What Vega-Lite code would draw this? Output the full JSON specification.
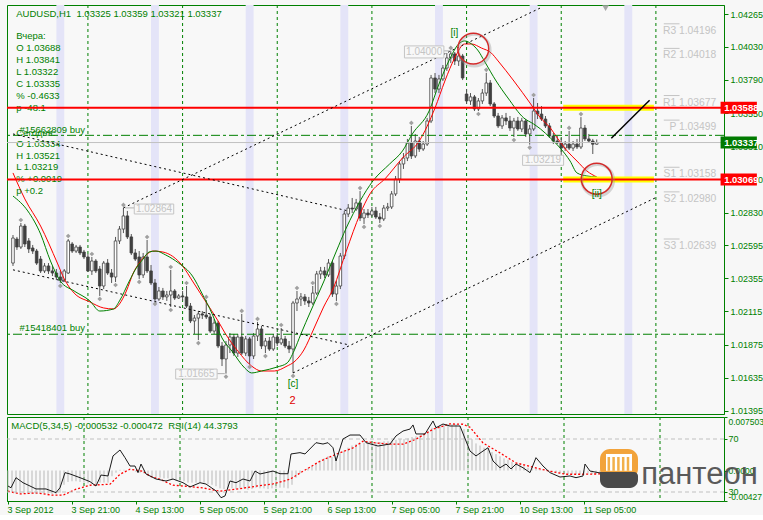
{
"$schema":"https://vega.github.io/schema/vega-lite/v6.json",
"background":"#f7f7f7",
"padding":{"left":4,"top":4,"right":0,"bottom":0},
"spacing":3,
"bounds":"flush",
"config":{"font":"Liberation Sans","view":{"stroke":"#008000","fill":"#f8f8f8"},"axis":{"labelColor":"#008000","tickColor":"#008000","domainColor":"#008000","labelFont":"Liberation Sans","labelFontSize":9,"tickSize":4,"labelPadding":2,"grid":false}},
"datasets":{
"cd":[
{"i":0,"o":1.02465,"h":1.02668,"l":1.02444,"c":1.02646},
{"i":1,"o":1.02639,"h":1.02654,"l":1.02560,"c":1.02581},
{"i":2,"o":1.02581,"h":1.02755,"l":1.02567,"c":1.02733},
{"i":3,"o":1.02733,"h":1.02748,"l":1.02581,"c":1.02603},
{"i":4,"o":1.02625,"h":1.02646,"l":1.02538,"c":1.02567},
{"i":5,"o":1.02574,"h":1.02596,"l":1.02531,"c":1.02552},
{"i":6,"o":1.02552,"h":1.02567,"l":1.02451,"c":1.02465},
{"i":7,"o":1.02494,"h":1.02516,"l":1.02393,"c":1.02408},
{"i":8,"o":1.02408,"h":1.02465,"l":1.02393,"c":1.02444},
{"i":9,"o":1.02444,"h":1.02465,"l":1.02386,"c":1.02408},
{"i":10,"o":1.02408,"h":1.02444,"l":1.02371,"c":1.02393},
{"i":11,"o":1.02393,"h":1.02422,"l":1.02342,"c":1.02364},
{"i":12,"o":1.02364,"h":1.02408,"l":1.02321,"c":1.02342},
{"i":13,"o":1.02342,"h":1.02422,"l":1.02328,"c":1.02408},
{"i":14,"o":1.02393,"h":1.02639,"l":1.02386,"c":1.02625},
{"i":15,"o":1.02603,"h":1.02617,"l":1.02538,"c":1.02552},
{"i":16,"o":1.02552,"h":1.02596,"l":1.02538,"c":1.02581},
{"i":17,"o":1.02581,"h":1.02596,"l":1.02523,"c":1.02538},
{"i":18,"o":1.02545,"h":1.02560,"l":1.02494,"c":1.02509},
{"i":19,"o":1.02509,"h":1.02531,"l":1.02400,"c":1.02408},
{"i":20,"o":1.02408,"h":1.02509,"l":1.02379,"c":1.02480},
{"i":21,"o":1.02480,"h":1.02494,"l":1.02393,"c":1.02408},
{"i":22,"o":1.02422,"h":1.02444,"l":1.02227,"c":1.02299},
{"i":23,"o":1.02299,"h":1.02480,"l":1.02277,"c":1.02465},
{"i":24,"o":1.02465,"h":1.02494,"l":1.02379,"c":1.02393},
{"i":25,"o":1.02393,"h":1.02422,"l":1.02321,"c":1.02364},
{"i":26,"o":1.02364,"h":1.02654,"l":1.02328,"c":1.02625},
{"i":27,"o":1.02625,"h":1.02733,"l":1.02603,"c":1.02711},
{"i":28,"o":1.02711,"h":1.02864,"l":1.02682,"c":1.02806},
{"i":29,"o":1.02806,"h":1.02842,"l":1.02639,"c":1.02654},
{"i":30,"o":1.02654,"h":1.02675,"l":1.02523,"c":1.02538},
{"i":31,"o":1.02538,"h":1.02567,"l":1.02480,"c":1.02494},
{"i":32,"o":1.02509,"h":1.02552,"l":1.02350,"c":1.02379},
{"i":33,"o":1.02379,"h":1.02538,"l":1.02357,"c":1.02509},
{"i":34,"o":1.02509,"h":1.02632,"l":1.02393,"c":1.02408},
{"i":35,"o":1.02408,"h":1.02451,"l":1.02306,"c":1.02321},
{"i":36,"o":1.02321,"h":1.02350,"l":1.02191,"c":1.02205},
{"i":37,"o":1.02205,"h":1.02292,"l":1.02191,"c":1.02263},
{"i":38,"o":1.02263,"h":1.02285,"l":1.02198,"c":1.02220},
{"i":39,"o":1.02220,"h":1.02263,"l":1.02191,"c":1.02234},
{"i":40,"o":1.02234,"h":1.02415,"l":1.02147,"c":1.02263},
{"i":41,"o":1.02263,"h":1.02277,"l":1.02198,"c":1.02212},
{"i":42,"o":1.02212,"h":1.02241,"l":1.02205,"c":1.02227},
{"i":43,"o":1.02227,"h":1.02263,"l":1.02191,"c":1.02220},
{"i":44,"o":1.02220,"h":1.02299,"l":1.02140,"c":1.02154},
{"i":45,"o":1.02154,"h":1.02176,"l":1.02031,"c":1.02046},
{"i":46,"o":1.02046,"h":1.02089,"l":1.01952,"c":1.02067},
{"i":47,"o":1.02067,"h":1.02118,"l":1.01908,"c":1.02097},
{"i":48,"o":1.02097,"h":1.02118,"l":1.02060,"c":1.02089},
{"i":49,"o":1.02089,"h":1.02198,"l":1.02060,"c":1.02075},
{"i":50,"o":1.02075,"h":1.02097,"l":1.01959,"c":1.01973},
{"i":51,"o":1.01973,"h":1.02060,"l":1.01952,"c":1.02031},
{"i":52,"o":1.02031,"h":1.02046,"l":1.01850,"c":1.01865},
{"i":53,"o":1.01865,"h":1.01894,"l":1.01720,"c":1.01771},
{"i":54,"o":1.01771,"h":1.01901,"l":1.01665,"c":1.01872},
{"i":55,"o":1.01872,"h":1.01959,"l":1.01814,"c":1.01930},
{"i":56,"o":1.01930,"h":1.01952,"l":1.01793,"c":1.01814},
{"i":57,"o":1.01814,"h":1.01952,"l":1.01785,"c":1.01930},
{"i":58,"o":1.01930,"h":1.02097,"l":1.01800,"c":1.01814},
{"i":59,"o":1.01814,"h":1.01937,"l":1.01793,"c":1.01916},
{"i":60,"o":1.01916,"h":1.01930,"l":1.01735,"c":1.01793},
{"i":61,"o":1.01793,"h":1.01959,"l":1.01771,"c":1.01937},
{"i":62,"o":1.01937,"h":1.02039,"l":1.01901,"c":1.01988},
{"i":63,"o":1.01988,"h":1.02010,"l":1.01843,"c":1.01865},
{"i":64,"o":1.01865,"h":1.01923,"l":1.01814,"c":1.01901},
{"i":65,"o":1.01901,"h":1.01930,"l":1.01829,"c":1.01843},
{"i":66,"o":1.01843,"h":1.01952,"l":1.01829,"c":1.01930},
{"i":67,"o":1.01930,"h":1.01959,"l":1.01865,"c":1.01887},
{"i":68,"o":1.01887,"h":1.01995,"l":1.01872,"c":1.01916},
{"i":69,"o":1.01916,"h":1.01937,"l":1.01850,"c":1.01865},
{"i":70,"o":1.01865,"h":1.01901,"l":1.01814,"c":1.01843},
{"i":71,"o":1.01843,"h":1.02191,"l":1.01670,"c":1.02176},
{"i":72,"o":1.02176,"h":1.02263,"l":1.02118,"c":1.02205},
{"i":73,"o":1.02205,"h":1.02248,"l":1.02154,"c":1.02220},
{"i":74,"o":1.02220,"h":1.02241,"l":1.02162,"c":1.02191},
{"i":75,"o":1.02191,"h":1.02220,"l":1.02147,"c":1.02176},
{"i":76,"o":1.02176,"h":1.02299,"l":1.02162,"c":1.02248},
{"i":77,"o":1.02248,"h":1.02408,"l":1.02234,"c":1.02386},
{"i":78,"o":1.02386,"h":1.02437,"l":1.02350,"c":1.02408},
{"i":79,"o":1.02408,"h":1.02437,"l":1.02357,"c":1.02379},
{"i":80,"o":1.02379,"h":1.02494,"l":1.02364,"c":1.02465},
{"i":81,"o":1.02465,"h":1.02480,"l":1.02220,"c":1.02241},
{"i":82,"o":1.02241,"h":1.02335,"l":1.02191,"c":1.02299},
{"i":83,"o":1.02299,"h":1.02538,"l":1.02277,"c":1.02516},
{"i":84,"o":1.02516,"h":1.02842,"l":1.02494,"c":1.02820},
{"i":85,"o":1.02820,"h":1.02892,"l":1.02798,"c":1.02863},
{"i":86,"o":1.02863,"h":1.02936,"l":1.02827,"c":1.02856},
{"i":87,"o":1.02856,"h":1.02929,"l":1.02842,"c":1.02900},
{"i":88,"o":1.02900,"h":1.02986,"l":1.02769,"c":1.02791},
{"i":89,"o":1.02791,"h":1.02856,"l":1.02748,"c":1.02827},
{"i":90,"o":1.02827,"h":1.02856,"l":1.02791,"c":1.02813},
{"i":91,"o":1.02813,"h":1.02871,"l":1.02798,"c":1.02842},
{"i":92,"o":1.02842,"h":1.02871,"l":1.02784,"c":1.02798},
{"i":93,"o":1.02798,"h":1.02827,"l":1.02755,"c":1.02784},
{"i":94,"o":1.02784,"h":1.02885,"l":1.02769,"c":1.02863},
{"i":95,"o":1.02863,"h":1.02900,"l":1.02842,"c":1.02871},
{"i":96,"o":1.02871,"h":1.02986,"l":1.02856,"c":1.02965},
{"i":97,"o":1.02965,"h":1.03095,"l":1.02950,"c":1.03073},
{"i":98,"o":1.03073,"h":1.03203,"l":1.03044,"c":1.03182},
{"i":99,"o":1.03182,"h":1.03261,"l":1.03146,"c":1.03225},
{"i":100,"o":1.03225,"h":1.03363,"l":1.03203,"c":1.03334},
{"i":101,"o":1.03334,"h":1.03457,"l":1.03218,"c":1.03240},
{"i":102,"o":1.03240,"h":1.03399,"l":1.03225,"c":1.03348},
{"i":103,"o":1.03348,"h":1.03377,"l":1.03269,"c":1.03290},
{"i":104,"o":1.03290,"h":1.03348,"l":1.03276,"c":1.03326},
{"i":105,"o":1.03326,"h":1.03515,"l":1.03312,"c":1.03493},
{"i":106,"o":1.03493,"h":1.03826,"l":1.03478,"c":1.03804},
{"i":107,"o":1.03804,"h":1.03840,"l":1.03695,"c":1.03724},
{"i":108,"o":1.03724,"h":1.03826,"l":1.03695,"c":1.03797},
{"i":109,"o":1.03797,"h":1.03898,"l":1.03782,"c":1.03876},
{"i":110,"o":1.03876,"h":1.03985,"l":1.03855,"c":1.03949},
{"i":111,"o":1.03949,"h":1.04000,"l":1.03912,"c":1.03978},
{"i":112,"o":1.03978,"h":1.03992,"l":1.03898,"c":1.03927},
{"i":113,"o":1.03927,"h":1.03985,"l":1.03891,"c":1.03963},
{"i":114,"o":1.03963,"h":1.03978,"l":1.03789,"c":1.03804},
{"i":115,"o":1.03688,"h":1.03724,"l":1.03616,"c":1.03638},
{"i":116,"o":1.03638,"h":1.03695,"l":1.03609,"c":1.03667},
{"i":117,"o":1.03667,"h":1.03681,"l":1.03565,"c":1.03580},
{"i":118,"o":1.03580,"h":1.03659,"l":1.03565,"c":1.03638},
{"i":119,"o":1.03638,"h":1.03724,"l":1.03616,"c":1.03695},
{"i":120,"o":1.03695,"h":1.03841,"l":1.03674,"c":1.03768},
{"i":121,"o":1.03768,"h":1.03789,"l":1.03601,"c":1.03616},
{"i":122,"o":1.03616,"h":1.03630,"l":1.03515,"c":1.03529},
{"i":123,"o":1.03529,"h":1.03551,"l":1.03442,"c":1.03457},
{"i":124,"o":1.03457,"h":1.03536,"l":1.03435,"c":1.03515},
{"i":125,"o":1.03515,"h":1.03551,"l":1.03464,"c":1.03493},
{"i":126,"o":1.03493,"h":1.03529,"l":1.03421,"c":1.03442},
{"i":127,"o":1.03442,"h":1.03515,"l":1.03377,"c":1.03493},
{"i":128,"o":1.03493,"h":1.03522,"l":1.03421,"c":1.03435},
{"i":129,"o":1.03435,"h":1.03515,"l":1.03413,"c":1.03493},
{"i":130,"o":1.03493,"h":1.03507,"l":1.03377,"c":1.03399},
{"i":131,"o":1.03399,"h":1.03464,"l":1.03322,"c":1.03435},
{"i":132,"o":1.03435,"h":1.03659,"l":1.03421,"c":1.03565},
{"i":133,"o":1.03565,"h":1.03623,"l":1.03507,"c":1.03543},
{"i":134,"o":1.03543,"h":1.03601,"l":1.03493,"c":1.03507},
{"i":135,"o":1.03507,"h":1.03529,"l":1.03442,"c":1.03457},
{"i":136,"o":1.03457,"h":1.03478,"l":1.03370,"c":1.03384},
{"i":137,"o":1.03384,"h":1.03406,"l":1.03326,"c":1.03348},
{"i":138,"o":1.03348,"h":1.03384,"l":1.03326,"c":1.03335},
{"i":139,"o":1.03334,"h":1.03370,"l":1.03219,"c":1.03297},
{"i":140,"o":1.03297,"h":1.03348,"l":1.03276,"c":1.03326},
{"i":141,"o":1.03326,"h":1.03421,"l":1.03283,"c":1.03297},
{"i":142,"o":1.03297,"h":1.03348,"l":1.03276,"c":1.03326},
{"i":143,"o":1.03326,"h":1.03363,"l":1.03290,"c":1.03305},
{"i":144,"o":1.03305,"h":1.03521,"l":1.03290,"c":1.03442},
{"i":145,"o":1.03442,"h":1.03464,"l":1.03348,"c":1.03363},
{"i":146,"o":1.03363,"h":1.03399,"l":1.03334,"c":1.03348},
{"i":147,"o":1.03348,"h":1.03363,"l":1.03254,"c":1.03325},
{"i":148,"o":1.03325,"h":1.03359,"l":1.03321,"c":1.03337}
],
"ma1":[
{"i":0,"p":1.03117},{"i":3,"p":1.02929},{"i":7,"p":1.02733},{"i":11.25,"p":1.02465},{"i":13,"p":1.0235},{"i":15.5,"p":1.02248},{"i":19.5,"p":1.02184},{"i":23,"p":1.0214},{"i":25.5,"p":1.02133},{"i":27,"p":1.02169},{"i":28.75,"p":1.02263},{"i":30.5,"p":1.02393},{"i":32,"p":1.02465},{"i":33.75,"p":1.02523},{"i":35.5,"p":1.02552},{"i":38,"p":1.02545},{"i":43,"p":1.02444},{"i":45.5,"p":1.02335},{"i":48.75,"p":1.02191},{"i":52,"p":1.02046},{"i":53.75,"p":1.01959},{"i":57,"p":1.01829},{"i":60.5,"p":1.0172},{"i":63,"p":1.01684},{"i":66.25,"p":1.01684},{"i":69.5,"p":1.0172},{"i":71.25,"p":1.01749},{"i":73.75,"p":1.01836},{"i":76.25,"p":1.01988},{"i":78.75,"p":1.02147},{"i":81.25,"p":1.02285},{"i":84.5,"p":1.02552},{"i":88,"p":1.0282},{"i":90.5,"p":1.02965},{"i":94.5,"p":1.0308},{"i":98.75,"p":1.03225},{"i":103,"p":1.03348},{"i":107,"p":1.03587},{"i":109.5,"p":1.03782},{"i":112,"p":1.03949},{"i":114.5,"p":1.0405},{"i":116.25,"p":1.0405},{"i":118.75,"p":1.04021},{"i":121.25,"p":1.03985},{"i":123,"p":1.03927},{"i":127,"p":1.03782},{"i":131.25,"p":1.03616},{"i":133.75,"p":1.03515},{"i":136.25,"p":1.03442},{"i":138,"p":1.0337},{"i":140.5,"p":1.03276},{"i":143,"p":1.03203},{"i":145.5,"p":1.03131},{"i":148,"p":1.03088}
],
"ma2":[
{"i":0,"p":1.0295},{"i":3.75,"p":1.02842},{"i":7,"p":1.02675},{"i":9.5,"p":1.0248},{"i":12,"p":1.02335},{"i":15.5,"p":1.02263},{"i":19.5,"p":1.02191},{"i":22,"p":1.02118},{"i":25.5,"p":1.02133},{"i":27,"p":1.02191},{"i":29.5,"p":1.02335},{"i":31.25,"p":1.02429},{"i":33,"p":1.02494},{"i":34.5,"p":1.02545},{"i":36.25,"p":1.02552},{"i":38.75,"p":1.02523},{"i":42,"p":1.02465},{"i":45.5,"p":1.02371},{"i":48,"p":1.02241},{"i":50.5,"p":1.02097},{"i":53,"p":1.01923},{"i":55.5,"p":1.01829},{"i":58.75,"p":1.01706},{"i":60.5,"p":1.0167},{"i":63,"p":1.01684},{"i":67,"p":1.01713},{"i":69.5,"p":1.01742},{"i":71.25,"p":1.01829},{"i":73,"p":1.01952},{"i":75.5,"p":1.02118},{"i":78.75,"p":1.02328},{"i":82,"p":1.02552},{"i":84.5,"p":1.02719},{"i":88,"p":1.02914},{"i":91.25,"p":1.03059},{"i":95.5,"p":1.03182},{"i":98.75,"p":1.03276},{"i":101.25,"p":1.03399},{"i":105.5,"p":1.03565},{"i":108,"p":1.0376},{"i":110.5,"p":1.03927},{"i":113,"p":1.0405},{"i":114.5,"p":1.04072},{"i":116.25,"p":1.0405},{"i":118,"p":1.03999},{"i":119.5,"p":1.03927},{"i":122.5,"p":1.03782},{"i":125.5,"p":1.03659},{"i":129.5,"p":1.03515},{"i":132,"p":1.03471},{"i":133.75,"p":1.03435},{"i":136.25,"p":1.0337},{"i":138.75,"p":1.03297},{"i":141.25,"p":1.03203},{"i":143,"p":1.03117},{"i":145.5,"p":1.03095},{"i":148,"p":1.03088}
],
"fr":[
{"i":2,"p":1.02755,"t":"u"},{"i":14,"p":1.02639,"t":"u"},{"i":20,"p":1.02509,"t":"u"},{"i":28,"p":1.02864,"t":"u"},{"i":34,"p":1.02632,"t":"u"},{"i":40,"p":1.02415,"t":"u"},{"i":44,"p":1.02299,"t":"u"},{"i":49,"p":1.02198,"t":"u"},{"i":58,"p":1.02097,"t":"u"},{"i":62,"p":1.02039,"t":"u"},{"i":68,"p":1.01995,"t":"u"},{"i":72,"p":1.02263,"t":"u"},{"i":76,"p":1.02299,"t":"u"},{"i":88,"p":1.02986,"t":"u"},{"i":101,"p":1.03457,"t":"u"},{"i":111,"p":1.04,"t":"u"},{"i":120,"p":1.03841,"t":"u"},{"i":132,"p":1.03659,"t":"u"},{"i":141,"p":1.03421,"t":"u"},{"i":144,"p":1.03521,"t":"u"},
{"i":12,"p":1.02321,"t":"d"},{"i":22,"p":1.02227,"t":"d"},{"i":26,"p":1.02328,"t":"d"},{"i":32,"p":1.0235,"t":"d"},{"i":36,"p":1.02191,"t":"d"},{"i":40,"p":1.02147,"t":"d"},{"i":47,"p":1.01908,"t":"d"},{"i":54,"p":1.01665,"t":"d"},{"i":60,"p":1.01735,"t":"d"},{"i":64,"p":1.01814,"t":"d"},{"i":71,"p":1.0167,"t":"d"},{"i":82,"p":1.02191,"t":"d"},{"i":89,"p":1.02748,"t":"d"},{"i":93,"p":1.02755,"t":"d"},{"i":118,"p":1.03565,"t":"d"},{"i":127,"p":1.03377,"t":"d"},{"i":131,"p":1.03322,"t":"d"},{"i":139,"p":1.03219,"t":"d"}
],
"rsi":[
{"i":0,"v":34.5},{"i":0.75,"v":33.2},{"i":2,"v":40.8},{"i":3.75,"v":37.0},{"i":5.5,"v":34.5},{"i":7,"v":32.3},{"i":9.5,"v":32.3},{"i":12,"v":29.5},{"i":13,"v":33.2},{"i":14.25,"v":44.6},{"i":15.5,"v":43.6},{"i":18,"v":40.8},{"i":20.5,"v":37.8},{"i":22,"v":34.5},{"i":23.25,"v":42.8},{"i":25,"v":42.1},{"i":26.25,"v":57.2},{"i":28,"v":61.7},{"i":29.25,"v":55.9},{"i":30.5,"v":49.6},{"i":31.75,"v":49.6},{"i":32.5,"v":44.6},{"i":33.25,"v":51.1},{"i":34.5,"v":43.6},{"i":37,"v":39.8},{"i":39.5,"v":38.3},{"i":41.25,"v":39.8},{"i":43.75,"v":37.0},{"i":45.5,"v":33.8},{"i":48,"v":37.0},{"i":49.5,"v":36.0},{"i":52,"v":30.8},{"i":53.25,"v":25.7},{"i":54.25,"v":27.0},{"i":55.5,"v":38.3},{"i":57,"v":37.0},{"i":58.75,"v":39.8},{"i":60.5,"v":38.3},{"i":61.75,"v":45.8},{"i":63,"v":43.6},{"i":64.5,"v":44.6},{"i":66.25,"v":45.8},{"i":68,"v":43.8},{"i":70,"v":43.8},{"i":70.75,"v":58.7},{"i":73,"v":59.7},{"i":74.25,"v":58.7},{"i":77,"v":67.2},{"i":78.75,"v":66.2},{"i":80,"v":67.2},{"i":81.25,"v":63.4},{"i":82,"v":53.4},{"i":83.75,"v":70.0},{"i":85.5,"v":73.0},{"i":88,"v":73.0},{"i":89.5,"v":67.2},{"i":92.5,"v":64.7},{"i":95.5,"v":66.2},{"i":97,"v":72.3},{"i":98.75,"v":76.0},{"i":100.5,"v":77.5},{"i":101.25,"v":80.6},{"i":102,"v":73.8},{"i":104.25,"v":73.8},{"i":106.25,"v":83.6},{"i":107,"v":78.5},{"i":108.75,"v":81.3},{"i":110.5,"v":79.8},{"i":113,"v":79.8},{"i":115.5,"v":60.9},{"i":117,"v":57.2},{"i":118.75,"v":60.9},{"i":120,"v":63.4},{"i":121.25,"v":53.4},{"i":123,"v":48.3},{"i":124.5,"v":51.1},{"i":125.75,"v":47.4},{"i":127,"v":51.1},{"i":128.75,"v":48.3},{"i":130.5,"v":44.6},{"i":132,"v":55.9},{"i":133.75,"v":49.6},{"i":135.5,"v":44.6},{"i":138,"v":41.3},{"i":140.5,"v":42.1},{"i":142,"v":40.8},{"i":143.75,"v":42.1},{"i":144.25,"v":51.1},{"i":145.5,"v":45.8},{"i":148,"v":44.3793}
],
"sig":[
{"i":0,"v":-0.0029},{"i":3,"v":-0.00328},{"i":7,"v":-0.00314},{"i":11.25,"v":-0.00346},{"i":13.75,"v":-0.00346},{"i":17,"v":-0.00262},{"i":20.5,"v":-0.00206},{"i":25.5,"v":-0.00192},{"i":28,"v":-0.00052},{"i":30.5,"v":0.00018},{"i":33.75,"v":-0.0001},{"i":35.5,"v":-0.0008},{"i":38,"v":-0.00122},{"i":41.25,"v":-0.00206},{"i":44.5,"v":-0.0022},{"i":48.75,"v":-0.00244},{"i":53,"v":-0.0029},{"i":57,"v":-0.00262},{"i":62,"v":-0.0022},{"i":66.25,"v":-0.00188},{"i":70.5,"v":-0.00122},{"i":73.75,"v":-0.0001},{"i":78,"v":0.0013},{"i":82,"v":0.00228},{"i":86.25,"v":0.00317},{"i":88.75,"v":0.0041},{"i":92,"v":0.00387},{"i":95.5,"v":0.00369},{"i":98.75,"v":0.00369},{"i":102,"v":0.00439},{"i":106.25,"v":0.00579},{"i":110.5,"v":0.00653},{"i":113.75,"v":0.00649},{"i":115.5,"v":0.00607},{"i":118.75,"v":0.00387},{"i":123,"v":0.00247},{"i":127,"v":0.00107},{"i":131.25,"v":0.00046},{"i":135.5,"v":-0.0001},{"i":139.5,"v":-0.00052},{"i":143.75,"v":-0.00052},{"i":148,"v":-0.000472}
],
"hist":[
{"i":0,"v":-0.0028},{"i":1,"v":-0.003},{"i":2,"v":-0.0031},{"i":3,"v":-0.0032},{"i":4,"v":-0.0032},{"i":5,"v":-0.0033},{"i":6,"v":-0.0033},{"i":7,"v":-0.0033},{"i":8,"v":-0.0032},{"i":9,"v":-0.0032},{"i":10,"v":-0.0032},{"i":11,"v":-0.0033},{"i":12,"v":-0.0033},{"i":13,"v":-0.0031},{"i":14,"v":-0.002},{"i":15,"v":-0.0016},{"i":16,"v":-0.0015},{"i":17,"v":-0.0015},{"i":18,"v":-0.0016},{"i":19,"v":-0.0017},{"i":20,"v":-0.0018},{"i":21,"v":-0.0019},{"i":22,"v":-0.002},{"i":23,"v":-0.0017},{"i":24,"v":-0.0017},{"i":25,"v":-0.0017},{"i":26,"v":-0.0008},{"i":27,"v":-0.0003},{"i":28,"v":0.0001},{"i":29,"v":0.0001},{"i":30,"v":0},{"i":31,"v":0},{"i":32,"v":-0.0002},{"i":33,"v":-0.0003},{"i":34,"v":-0.0004},{"i":35,"v":-0.0006},{"i":36,"v":-0.0008},{"i":37,"v":-0.0009},{"i":38,"v":-0.001},{"i":39,"v":-0.0011},{"i":40,"v":-0.0011},{"i":41,"v":-0.0013},{"i":42,"v":-0.0014},{"i":43,"v":-0.0015},{"i":44,"v":-0.0015},{"i":45,"v":-0.0017},{"i":46,"v":-0.0017},{"i":47,"v":-0.0017},{"i":48,"v":-0.0017},{"i":49,"v":-0.0017},{"i":50,"v":-0.0019},{"i":51,"v":-0.002},{"i":52,"v":-0.0022},{"i":53,"v":-0.0025},{"i":54,"v":-0.0026},{"i":55,"v":-0.0025},{"i":56,"v":-0.0025},{"i":57,"v":-0.0026},{"i":58,"v":-0.0025},{"i":59,"v":-0.0025},{"i":60,"v":-0.0027},{"i":61,"v":-0.0026},{"i":62,"v":-0.0024},{"i":63,"v":-0.0025},{"i":64,"v":-0.0025},{"i":65,"v":-0.0026},{"i":66,"v":-0.0025},{"i":67,"v":-0.0025},{"i":68,"v":-0.0024},{"i":69,"v":-0.0024},{"i":70,"v":-0.0025},{"i":71,"v":-0.002},{"i":72,"v":-0.001},{"i":73,"v":-0.0004},{"i":74,"v":0},{"i":75,"v":0.0003},{"i":76,"v":0.0006},{"i":77,"v":0.001},{"i":78,"v":0.0014},{"i":79,"v":0.0017},{"i":80,"v":0.002},{"i":81,"v":0.0019},{"i":82,"v":0.002},{"i":83,"v":0.0024},{"i":84,"v":0.0028},{"i":85,"v":0.0032},{"i":86,"v":0.0035},{"i":87,"v":0.0037},{"i":88,"v":0.0039},{"i":89,"v":0.0039},{"i":90,"v":0.004},{"i":91,"v":0.004},{"i":92,"v":0.004},{"i":93,"v":0.004},{"i":94,"v":0.0041},{"i":95,"v":0.0041},{"i":96,"v":0.0042},{"i":97,"v":0.0043},{"i":98,"v":0.0044},{"i":99,"v":0.0044},{"i":100,"v":0.0045},{"i":101,"v":0.0047},{"i":102,"v":0.0048},{"i":103,"v":0.0049},{"i":104,"v":0.0051},{"i":105,"v":0.0055},{"i":106,"v":0.006},{"i":107,"v":0.0062},{"i":108,"v":0.0063},{"i":109,"v":0.0064},{"i":110,"v":0.0065},{"i":111,"v":0.0065},{"i":112,"v":0.0065},{"i":113,"v":0.0063},{"i":114,"v":0.0058},{"i":115,"v":0.005},{"i":116,"v":0.0044},{"i":117,"v":0.0038},{"i":118,"v":0.0035},{"i":119,"v":0.0032},{"i":120,"v":0.003},{"i":121,"v":0.0026},{"i":122,"v":0.0023},{"i":123,"v":0.002},{"i":124,"v":0.0017},{"i":125,"v":0.0015},{"i":126,"v":0.0012},{"i":127,"v":0.001},{"i":128,"v":0.0008},{"i":129,"v":0.0006},{"i":130,"v":0.0004},{"i":131,"v":0.0003},{"i":132,"v":0.0003},{"i":133,"v":0.0001},{"i":134,"v":0},{"i":135,"v":-0.0001},{"i":136,"v":-0.0002},{"i":137,"v":-0.0003},{"i":138,"v":-0.0004},{"i":139,"v":-0.0005},{"i":140,"v":-0.0005},{"i":141,"v":-0.0005},{"i":142,"v":-0.0005},{"i":143,"v":-0.0005},{"i":144,"v":-0.0004},{"i":145,"v":-0.0004},{"i":146,"v":-0.0005},{"i":147,"v":-0.0005},{"i":148,"v":-0.000532}
],
"sep":[{"i":19},{"i":43},{"i":67},{"i":91},{"i":115},{"i":139},{"i":163}],
"band":[{"s":11,"e":13},{"s":35,"e":37},{"s":59,"e":61},{"s":83,"e":85},{"s":107,"e":109},{"s":131,"e":133},{"s":155,"e":157}],
"tl":[
{"x1":0,"y1":1.03399,"x2":85,"y2":1.02842,"k":"d"},
{"x1":28,"y1":1.02864,"x2":134.25,"y2":1.04318,"k":"d"},
{"x1":71,"y1":1.0167,"x2":163,"y2":1.02939,"k":"d"},
{"x1":0,"y1":1.02416,"x2":85,"y2":1.01874,"k":"d"},
{"x1":151.7,"y1":1.03368,"x2":161.4,"y2":1.03643,"k":"s"}
],
"info":[
{"i":0.83,"p":1.04269,"t":"AUDUSD,H1\u00a0\u00a01.03325 1.03359 1.03321 1.03337"},
{"i":0.83,"p":1.04108,"t":"Вчера:"},
{"i":0.83,"p":1.04023,"t":"O 1.03688"},
{"i":0.83,"p":1.03936,"t":"H 1.03841"},
{"i":0.83,"p":1.03849,"t":"L 1.03322"},
{"i":0.83,"p":1.03763,"t":"C 1.03335"},
{"i":0.83,"p":1.03676,"t":"% -0.4633"},
{"i":0.83,"p":1.03589,"t":"p -48.1"},
{"i":0.83,"p":1.03408,"t":"Сегодня:"},
{"i":1.67,"p":1.03428,"t":"#15662809 buy"},
{"i":0.83,"p":1.03329,"t":"O 1.03334"},
{"i":0.83,"p":1.03242,"t":"H 1.03521"},
{"i":0.83,"p":1.03158,"t":"L 1.03219"},
{"i":0.83,"p":1.03071,"t":"% +0.0019"},
{"i":0.83,"p":1.02984,"t":"p +0.2"},
{"i":1.67,"p":1.01993,"t":"#15418401 buy"}
],
"boxes":[
{"x1":30.75,"x2":40.75,"y1":1.0282,"y2":1.02892,"xc":35.75,"yc":1.02856,"t":"1.02864","a":28.4,"b":30.75,"v":1.02864},
{"x1":41.25,"x2":51.75,"y1":1.01626,"y2":1.01698,"xc":46.5,"yc":1.01662,"t":"1.01665","a":51.75,"b":53.7,"v":1.01665},
{"x1":99.25,"x2":109.25,"y1":1.03949,"y2":1.04036,"xc":104.25,"yc":1.03993,"t":"1.04000","a":109.25,"b":111,"v":1.04},
{"x1":129.2,"x2":139.6,"y1":1.03172,"y2":1.03245,"xc":134.4,"yc":1.03209,"t":"1.03219","a":139.6,"b":139.6,"v":1.03219}
],
"piv":[
{"p":1.04196,"t":"R3 1.04196"},{"p":1.04018,"t":"R2 1.04018"},{"p":1.03677,"t":"R1 1.03677"},{"p":1.03499,"t":"P 1.03499"},{"p":1.03158,"t":"S1 1.03158"},{"p":1.0298,"t":"S2 1.02980"},{"p":1.02639,"t":"S3 1.02639"}
],
"tags":[{"p":1.03588,"t":"1.03588","k":"r"},{"p":1.03069,"t":"1.03069","k":"r"},{"p":1.03337,"t":"1.03337","k":"g"}]
},
"vconcat":[
{
"width":717,"height":409,
"layer":[
{"data":{"name":"band"},"mark":{"type":"rect","color":"#e4e4f8"},"encoding":{"x":{"field":"s","type":"quantitative","scale":{"domain":[-0.25,179],"nice":false,"zero":false},"axis":null},"x2":{"field":"e"}}},
{"data":{"name":"sep"},"mark":{"type":"rule","color":"#008000","strokeDash":[3,3]},"encoding":{"x":{"field":"i","type":"quantitative","axis":null}}},
{"data":{"name":"cd"},"mark":{"type":"rule","color":"#555555"},"encoding":{"x":{"field":"i","type":"quantitative","axis":null},"y":{"field":"l","type":"quantitative","scale":{"domain":[1.01373,1.04332],"nice":false,"zero":false},"axis":{"orient":"right","values":[1.04265,1.0403,1.0379,1.0355,1.0331,1.0307,1.0283,1.02595,1.02355,1.02115,1.01875,1.01635,1.01395],"format":".5f","title":null,"labelOverlap":false,"labelBound":false,"labelFlush":false}},"y2":{"field":"h"}}},
{"data":{"name":"cd"},"mark":{"type":"bar","width":2.6,"stroke":"#404040","strokeWidth":0.8},"encoding":{"x":{"field":"i","type":"quantitative","axis":null},"y":{"field":"o","type":"quantitative","axis":{"orient":"right","values":[1.04265,1.0403,1.0379,1.0355,1.0331,1.0307,1.0283,1.02595,1.02355,1.02115,1.01875,1.01635,1.01395],"format":".5f","title":null,"labelOverlap":false,"labelBound":false,"labelFlush":false}},"y2":{"field":"c"},"fill":{"condition":{"test":"datum.c < datum.o","value":"#404040"},"value":"#ffffff"}}},
{"data":{"name":"ma1"},"mark":{"type":"line","color":"#ff0000","strokeWidth":1,"interpolate":"monotone"},"encoding":{"x":{"field":"i","type":"quantitative","axis":null},"y":{"field":"p","type":"quantitative","axis":{"orient":"right","values":[1.04265,1.0403,1.0379,1.0355,1.0331,1.0307,1.0283,1.02595,1.02355,1.02115,1.01875,1.01635,1.01395],"format":".5f","title":null,"labelOverlap":false,"labelBound":false,"labelFlush":false}}}},
{"data":{"name":"ma2"},"mark":{"type":"line","color":"#008000","strokeWidth":1,"interpolate":"monotone"},"encoding":{"x":{"field":"i","type":"quantitative","axis":null},"y":{"field":"p","type":"quantitative","axis":{"orient":"right","values":[1.04265,1.0403,1.0379,1.0355,1.0331,1.0307,1.0283,1.02595,1.02355,1.02115,1.01875,1.01635,1.01395],"format":".5f","title":null,"labelOverlap":false,"labelBound":false,"labelFlush":false}}}},
{"data":{"name":"fr"},"transform":[{"filter":"datum.t == 'u'"}],"mark":{"type":"point","shape":"diamond","filled":true,"color":"#a0a0a0","size":22,"opacity":1,"yOffset":-3},"encoding":{"x":{"field":"i","type":"quantitative","axis":null},"y":{"field":"p","type":"quantitative","axis":{"orient":"right","values":[1.04265,1.0403,1.0379,1.0355,1.0331,1.0307,1.0283,1.02595,1.02355,1.02115,1.01875,1.01635,1.01395],"format":".5f","title":null,"labelOverlap":false,"labelBound":false,"labelFlush":false}}}},
{"data":{"name":"fr"},"transform":[{"filter":"datum.t == 'd'"}],"mark":{"type":"point","shape":"diamond","filled":true,"color":"#a0a0a0","size":22,"opacity":1,"yOffset":3},"encoding":{"x":{"field":"i","type":"quantitative","axis":null},"y":{"field":"p","type":"quantitative","axis":{"orient":"right","values":[1.04265,1.0403,1.0379,1.0355,1.0331,1.0307,1.0283,1.02595,1.02355,1.02115,1.01875,1.01635,1.01395],"format":".5f","title":null,"labelOverlap":false,"labelBound":false,"labelFlush":false}}}},
{"data":{"name":"info"},"mark":{"type":"text","align":"left","baseline":"middle","fontSize":9.5,"color":"#008000"},"encoding":{"x":{"field":"i","type":"quantitative","axis":null},"y":{"field":"p","type":"quantitative","axis":{"orient":"right","values":[1.04265,1.0403,1.0379,1.0355,1.0331,1.0307,1.0283,1.02595,1.02355,1.02115,1.01875,1.01635,1.01395],"format":".5f","title":null,"labelOverlap":false,"labelBound":false,"labelFlush":false}},"text":{"field":"t"}}},
{"data":{"values":[{"p":1.03588},{"p":1.03069}]},"mark":{"type":"rule","color":"#ffff00","strokeWidth":6},"encoding":{"x":{"datum":139.5,"type":"quantitative","axis":null},"x2":{"datum":162.5},"y":{"field":"p","type":"quantitative","axis":{"orient":"right","values":[1.04265,1.0403,1.0379,1.0355,1.0331,1.0307,1.0283,1.02595,1.02355,1.02115,1.01875,1.01635,1.01395],"format":".5f","title":null,"labelOverlap":false,"labelBound":false,"labelFlush":false}}}},
{"data":{"values":[{"p":1.03588},{"p":1.03069}]},"mark":{"type":"rule","color":"#ff0000","strokeWidth":2},"encoding":{"y":{"field":"p","type":"quantitative","axis":{"orient":"right","values":[1.04265,1.0403,1.0379,1.0355,1.0331,1.0307,1.0283,1.02595,1.02355,1.02115,1.01875,1.01635,1.01395],"format":".5f","title":null,"labelOverlap":false,"labelBound":false,"labelFlush":false}}}},
{"data":{"values":[{"p":1.03337}]},"mark":{"type":"rule","color":"#c0c0c0","strokeWidth":1},"encoding":{"y":{"field":"p","type":"quantitative","axis":{"orient":"right","values":[1.04265,1.0403,1.0379,1.0355,1.0331,1.0307,1.0283,1.02595,1.02355,1.02115,1.01875,1.01635,1.01395],"format":".5f","title":null,"labelOverlap":false,"labelBound":false,"labelFlush":false}}}},
{"data":{"values":[{"p":1.03389},{"p":1.0195}]},"mark":{"type":"rule","color":"#008000","strokeWidth":1,"strokeDash":[9,3,3,3]},"encoding":{"y":{"field":"p","type":"quantitative","axis":{"orient":"right","values":[1.04265,1.0403,1.0379,1.0355,1.0331,1.0307,1.0283,1.02595,1.02355,1.02115,1.01875,1.01635,1.01395],"format":".5f","title":null,"labelOverlap":false,"labelBound":false,"labelFlush":false}}}},
{"data":{"name":"tl"},"transform":[{"filter":"datum.k == 'd'"}],"mark":{"type":"rule","color":"#000000","strokeWidth":1,"strokeDash":[2,3]},"encoding":{"x":{"field":"x1","type":"quantitative","axis":null},"x2":{"field":"x2"},"y":{"field":"y1","type":"quantitative","axis":{"orient":"right","values":[1.04265,1.0403,1.0379,1.0355,1.0331,1.0307,1.0283,1.02595,1.02355,1.02115,1.01875,1.01635,1.01395],"format":".5f","title":null,"labelOverlap":false,"labelBound":false,"labelFlush":false}},"y2":{"field":"y2"}}},
{"data":{"name":"tl"},"transform":[{"filter":"datum.k == 's'"}],"mark":{"type":"rule","color":"#000000","strokeWidth":1.5},"encoding":{"x":{"field":"x1","type":"quantitative","axis":null},"x2":{"field":"x2"},"y":{"field":"y1","type":"quantitative","axis":{"orient":"right","values":[1.04265,1.0403,1.0379,1.0355,1.0331,1.0307,1.0283,1.02595,1.02355,1.02115,1.01875,1.01635,1.01395],"format":".5f","title":null,"labelOverlap":false,"labelBound":false,"labelFlush":false}},"y2":{"field":"y2"}}},
{"data":{"values":[{"i":116.7,"p":1.04016},{"i":148,"p":1.03075}]},"mark":{"type":"point","shape":"circle","filled":false,"color":"#909090","strokeWidth":3,"opacity":0.35,"size":1000,"xOffset":1,"yOffset":1.5},"encoding":{"x":{"field":"i","type":"quantitative","axis":null},"y":{"field":"p","type":"quantitative","axis":{"orient":"right","values":[1.04265,1.0403,1.0379,1.0355,1.0331,1.0307,1.0283,1.02595,1.02355,1.02115,1.01875,1.01635,1.01395],"format":".5f","title":null,"labelOverlap":false,"labelBound":false,"labelFlush":false}}}},
{"data":{"values":[{"i":116.7,"p":1.04016},{"i":148,"p":1.03075}]},"mark":{"type":"point","shape":"circle","filled":false,"color":"#d42a2a","strokeWidth":1.5,"opacity":1,"size":950},"encoding":{"x":{"field":"i","type":"quantitative","axis":null},"y":{"field":"p","type":"quantitative","axis":{"orient":"right","values":[1.04265,1.0403,1.0379,1.0355,1.0331,1.0307,1.0283,1.02595,1.02355,1.02115,1.01875,1.01635,1.01395],"format":".5f","title":null,"labelOverlap":false,"labelBound":false,"labelFlush":false}}}},
{"data":{"name":"boxes"},"mark":{"type":"rule","color":"#b0b0b0"},"encoding":{"x":{"field":"a","type":"quantitative","axis":null},"x2":{"field":"b"},"y":{"field":"v","type":"quantitative","axis":{"orient":"right","values":[1.04265,1.0403,1.0379,1.0355,1.0331,1.0307,1.0283,1.02595,1.02355,1.02115,1.01875,1.01635,1.01395],"format":".5f","title":null,"labelOverlap":false,"labelBound":false,"labelFlush":false}}}},
{"data":{"name":"boxes"},"mark":{"type":"rect","fill":"#f8f8f8","stroke":"#c4c4c4","strokeWidth":1},"encoding":{"x":{"field":"x1","type":"quantitative","axis":null},"x2":{"field":"x2"},"y":{"field":"y1","type":"quantitative","axis":{"orient":"right","values":[1.04265,1.0403,1.0379,1.0355,1.0331,1.0307,1.0283,1.02595,1.02355,1.02115,1.01875,1.01635,1.01395],"format":".5f","title":null,"labelOverlap":false,"labelBound":false,"labelFlush":false}},"y2":{"field":"y2"}}},
{"data":{"name":"boxes"},"mark":{"type":"text","align":"center","baseline":"middle","fontSize":10,"color":"#c4c4c4"},"encoding":{"x":{"field":"xc","type":"quantitative","axis":null},"y":{"field":"yc","type":"quantitative","axis":{"orient":"right","values":[1.04265,1.0403,1.0379,1.0355,1.0331,1.0307,1.0283,1.02595,1.02355,1.02115,1.01875,1.01635,1.01395],"format":".5f","title":null,"labelOverlap":false,"labelBound":false,"labelFlush":false}},"text":{"field":"t"}}},
{"data":{"values":[{"i":111.9,"p":1.04126,"t":"[i]"},{"i":148,"p":1.02965,"t":"[ii]"},{"i":71,"p":1.0159,"t":"[c]"}]},"mark":{"type":"text","align":"center","baseline":"middle","fontSize":10,"color":"#008000"},"encoding":{"x":{"field":"i","type":"quantitative","axis":null},"y":{"field":"p","type":"quantitative","axis":{"orient":"right","values":[1.04265,1.0403,1.0379,1.0355,1.0331,1.0307,1.0283,1.02595,1.02355,1.02115,1.01875,1.01635,1.01395],"format":".5f","title":null,"labelOverlap":false,"labelBound":false,"labelFlush":false}},"text":{"field":"t"}}},
{"data":{"values":[{"i":70.9,"p":1.01467,"t":"2"}]},"mark":{"type":"text","align":"center","baseline":"middle","fontSize":11,"color":"#e00000"},"encoding":{"x":{"field":"i","type":"quantitative","axis":null},"y":{"field":"p","type":"quantitative","axis":{"orient":"right","values":[1.04265,1.0403,1.0379,1.0355,1.0331,1.0307,1.0283,1.02595,1.02355,1.02115,1.01875,1.01635,1.01395],"format":".5f","title":null,"labelOverlap":false,"labelBound":false,"labelFlush":false}},"text":{"field":"t"}}},
{"data":{"name":"piv"},"mark":{"type":"rule","color":"#c4c4c4"},"encoding":{"x":{"datum":165,"type":"quantitative","axis":null},"x2":{"datum":169},"y":{"field":"p","type":"quantitative","axis":{"orient":"right","values":[1.04265,1.0403,1.0379,1.0355,1.0331,1.0307,1.0283,1.02595,1.02355,1.02115,1.01875,1.01635,1.01395],"format":".5f","title":null,"labelOverlap":false,"labelBound":false,"labelFlush":false}}}},
{"data":{"name":"piv"},"mark":{"type":"text","align":"right","baseline":"top","dy":2,"fontSize":10.3,"color":"#c4c4c4"},"encoding":{"x":{"datum":178.3,"type":"quantitative","axis":null},"y":{"field":"p","type":"quantitative","axis":{"orient":"right","values":[1.04265,1.0403,1.0379,1.0355,1.0331,1.0307,1.0283,1.02595,1.02355,1.02115,1.01875,1.01635,1.01395],"format":".5f","title":null,"labelOverlap":false,"labelBound":false,"labelFlush":false}},"text":{"field":"t"}}},
{"data":{"values":[{"i":150.25,"p":1.0431}]},"mark":{"type":"point","shape":"triangle-down","filled":true,"color":"#a8a8a8","size":45,"opacity":1},"encoding":{"x":{"field":"i","type":"quantitative","axis":null},"y":{"field":"p","type":"quantitative","axis":{"orient":"right","values":[1.04265,1.0403,1.0379,1.0355,1.0331,1.0307,1.0283,1.02595,1.02355,1.02115,1.01875,1.01635,1.01395],"format":".5f","title":null,"labelOverlap":false,"labelBound":false,"labelFlush":false}}}},
{"data":{"name":"tags"},"mark":{"type":"rule","strokeWidth":12},"encoding":{"x":{"datum":179.4,"type":"quantitative","axis":null},"x2":{"datum":188.6},"y":{"field":"p","type":"quantitative","axis":{"orient":"right","values":[1.04265,1.0403,1.0379,1.0355,1.0331,1.0307,1.0283,1.02595,1.02355,1.02115,1.01875,1.01635,1.01395],"format":".5f","title":null,"labelOverlap":false,"labelBound":false,"labelFlush":false}},"color":{"condition":{"test":"datum.k == 'g'","value":"#007a00"},"value":"#ff0000"}}},
{"data":{"name":"tags"},"mark":{"type":"text","align":"left","baseline":"middle","fontSize":9.5,"fontWeight":"bold","color":"#ffffff"},"encoding":{"x":{"datum":180.3,"type":"quantitative","axis":null},"y":{"field":"p","type":"quantitative","axis":{"orient":"right","values":[1.04265,1.0403,1.0379,1.0355,1.0331,1.0307,1.0283,1.02595,1.02355,1.02115,1.01875,1.01635,1.01395],"format":".5f","title":null,"labelOverlap":false,"labelBound":false,"labelFlush":false}},"text":{"field":"t"}}}
]
},
{
"width":717,"height":84,
"layer":[
{"data":{"name":"sep"},"mark":{"type":"rule","color":"#008000","strokeDash":[3,3]},"encoding":{"x":{"field":"i","type":"quantitative","scale":{"domain":[-0.25,179],"nice":false,"zero":false},"axis":{"values":[0,16,32,48,64,80,96,112,128,144],"labelExpr":"['3 Sep 2012','3 Sep 21:00','4 Sep 13:00','5 Sep 05:00','5 Sep 21:00','6 Sep 13:00','7 Sep 05:00','7 Sep 21:00','10 Sep 13:00','11 Sep 05:00'][round(datum.value/16)]","labelAlign":"left","labelFlush":false,"labelOverlap":false,"labelBound":false,"title":null,"labelOffset":-1,"tickSize":3,"labelPadding":1}}}},
{"layer":[
{"data":{"name":"hist"},"mark":{"type":"rule","color":"#b8b8b8","strokeWidth":1},"encoding":{"x":{"field":"i","type":"quantitative","axis":{"values":[0,16,32,48,64,80,96,112,128,144],"labelExpr":"['3 Sep 2012','3 Sep 21:00','4 Sep 13:00','5 Sep 05:00','5 Sep 21:00','6 Sep 13:00','7 Sep 05:00','7 Sep 21:00','10 Sep 13:00','11 Sep 05:00'][round(datum.value/16)]","labelAlign":"left","labelFlush":false,"labelOverlap":false,"labelBound":false,"title":null,"labelOffset":-1,"tickSize":3,"labelPadding":1}},"y":{"field":"v","type":"quantitative","scale":{"domain":[-0.00427,0.007503],"nice":false,"zero":false},"axis":{"orient":"right","values":[0.007503,0,-0.00427],"labelExpr":"datum.value > 0.001 ? '0.007503' : (datum.value < -0.001 ? '-0.00427' : '0.0000')","labelFlush":true,"labelOverlap":false,"title":null,"domain":false,"tickSize":3,"labelPadding":1,"labelFontSize":8.5}},"y2":{"datum":0}}},
{"data":{"name":"sig"},"mark":{"type":"line","color":"#ff0000","strokeWidth":1.3,"strokeDash":[2,2]},"encoding":{"x":{"field":"i","type":"quantitative","axis":{"values":[0,16,32,48,64,80,96,112,128,144],"labelExpr":"['3 Sep 2012','3 Sep 21:00','4 Sep 13:00','5 Sep 05:00','5 Sep 21:00','6 Sep 13:00','7 Sep 05:00','7 Sep 21:00','10 Sep 13:00','11 Sep 05:00'][round(datum.value/16)]","labelAlign":"left","labelFlush":false,"labelOverlap":false,"labelBound":false,"title":null,"labelOffset":-1,"tickSize":3,"labelPadding":1}},"y":{"field":"v","type":"quantitative","axis":{"orient":"right","values":[0.007503,0,-0.00427],"labelExpr":"datum.value > 0.001 ? '0.007503' : (datum.value < -0.001 ? '-0.00427' : '0.0000')","labelFlush":true,"labelOverlap":false,"title":null,"domain":false,"tickSize":3,"labelPadding":1,"labelFontSize":8.5}}}}
]},
{"layer":[
{"data":{"values":[{"v":70},{"v":30}]},"mark":{"type":"rule","color":"#c0c0c0","strokeDash":[4,3]},"encoding":{"y":{"field":"v","type":"quantitative","scale":{"domain":[23.2,86.6],"nice":false,"zero":false},"axis":{"orient":"right","values":[70,30],"title":null,"domain":false,"labelOverlap":false,"tickSize":3,"labelPadding":1}}}},
{"data":{"name":"rsi"},"mark":{"type":"line","color":"#1a1a1a","strokeWidth":1},"encoding":{"x":{"field":"i","type":"quantitative","axis":{"values":[0,16,32,48,64,80,96,112,128,144],"labelExpr":"['3 Sep 2012','3 Sep 21:00','4 Sep 13:00','5 Sep 05:00','5 Sep 21:00','6 Sep 13:00','7 Sep 05:00','7 Sep 21:00','10 Sep 13:00','11 Sep 05:00'][round(datum.value/16)]","labelAlign":"left","labelFlush":false,"labelOverlap":false,"labelBound":false,"title":null,"labelOffset":-1,"tickSize":3,"labelPadding":1}},"y":{"field":"v","type":"quantitative","axis":{"orient":"right","values":[70,30],"title":null,"domain":false,"labelOverlap":false,"tickSize":3,"labelPadding":1}}}},
{"data":{"values":[{"i":0.83,"v":79.8,"t":"MACD(5,34,5) -0.000532 -0.000472\u00a0\u00a0RSI(14) 44.3793"}]},"mark":{"type":"text","align":"left","baseline":"middle","fontSize":9.5,"color":"#008000"},"encoding":{"x":{"field":"i","type":"quantitative","axis":{"values":[0,16,32,48,64,80,96,112,128,144],"labelExpr":"['3 Sep 2012','3 Sep 21:00','4 Sep 13:00','5 Sep 05:00','5 Sep 21:00','6 Sep 13:00','7 Sep 05:00','7 Sep 21:00','10 Sep 13:00','11 Sep 05:00'][round(datum.value/16)]","labelAlign":"left","labelFlush":false,"labelOverlap":false,"labelBound":false,"title":null,"labelOffset":-1,"tickSize":3,"labelPadding":1}},"y":{"field":"v","type":"quantitative","axis":{"orient":"right","values":[70,30],"title":null,"domain":false,"labelOverlap":false,"tickSize":3,"labelPadding":1}},"text":{"field":"t"}}},
{"data":{"values":[{"x1":148,"x2":157.5,"y1":62.45,"y2":40}]},"mark":{"type":"rect","fill":"#f2a33a","cornerRadius":10},"encoding":{"x":{"field":"x1","type":"quantitative","axis":{"values":[0,16,32,48,64,80,96,112,128,144],"labelExpr":"['3 Sep 2012','3 Sep 21:00','4 Sep 13:00','5 Sep 05:00','5 Sep 21:00','6 Sep 13:00','7 Sep 05:00','7 Sep 21:00','10 Sep 13:00','11 Sep 05:00'][round(datum.value/16)]","labelAlign":"left","labelFlush":false,"labelOverlap":false,"labelBound":false,"title":null,"labelOffset":-1,"tickSize":3,"labelPadding":1}},"x2":{"field":"x2"},"y":{"field":"y1","type":"quantitative","axis":{"orient":"right","values":[70,30],"title":null,"domain":false,"labelOverlap":false,"tickSize":3,"labelPadding":1}},"y2":{"field":"y2"}}},
{"data":{"values":[{"x1":149.5,"x2":156,"y1":58.7,"y2":46}]},"mark":{"type":"rect","fill":"#ffffff"},"encoding":{"x":{"field":"x1","type":"quantitative","axis":{"values":[0,16,32,48,64,80,96,112,128,144],"labelExpr":"['3 Sep 2012','3 Sep 21:00','4 Sep 13:00','5 Sep 05:00','5 Sep 21:00','6 Sep 13:00','7 Sep 05:00','7 Sep 21:00','10 Sep 13:00','11 Sep 05:00'][round(datum.value/16)]","labelAlign":"left","labelFlush":false,"labelOverlap":false,"labelBound":false,"title":null,"labelOffset":-1,"tickSize":3,"labelPadding":1}},"x2":{"field":"x2"},"y":{"field":"y1","type":"quantitative","axis":{"orient":"right","values":[70,30],"title":null,"domain":false,"labelOverlap":false,"tickSize":3,"labelPadding":1}},"y2":{"field":"y2"}}},
{"data":{"values":[{"x":150.2,"y1":56.4,"y2":46},{"x":151.4,"y1":56.4,"y2":46},{"x":152.6,"y1":56.4,"y2":46},{"x":153.8,"y1":56.4,"y2":46},{"x":155,"y1":56.4,"y2":46}]},"mark":{"type":"rule","color":"#f2b04a","strokeWidth":2.5},"encoding":{"x":{"field":"x","type":"quantitative","axis":{"values":[0,16,32,48,64,80,96,112,128,144],"labelExpr":"['3 Sep 2012','3 Sep 21:00','4 Sep 13:00','5 Sep 05:00','5 Sep 21:00','6 Sep 13:00','7 Sep 05:00','7 Sep 21:00','10 Sep 13:00','11 Sep 05:00'][round(datum.value/16)]","labelAlign":"left","labelFlush":false,"labelOverlap":false,"labelBound":false,"title":null,"labelOffset":-1,"tickSize":3,"labelPadding":1}},"y":{"field":"y1","type":"quantitative","axis":{"orient":"right","values":[70,30],"title":null,"domain":false,"labelOverlap":false,"tickSize":3,"labelPadding":1}},"y2":{"field":"y2"}}},
{"data":{"values":[{"x1":148,"x2":157.5,"y1":45,"y2":33}]},"mark":{"type":"rect","fill":"#4a4a4a","cornerRadiusBottomLeft":11,"cornerRadiusBottomRight":11,"cornerRadiusTopRight":4},"encoding":{"x":{"field":"x1","type":"quantitative","axis":{"values":[0,16,32,48,64,80,96,112,128,144],"labelExpr":"['3 Sep 2012','3 Sep 21:00','4 Sep 13:00','5 Sep 05:00','5 Sep 21:00','6 Sep 13:00','7 Sep 05:00','7 Sep 21:00','10 Sep 13:00','11 Sep 05:00'][round(datum.value/16)]","labelAlign":"left","labelFlush":false,"labelOverlap":false,"labelBound":false,"title":null,"labelOffset":-1,"tickSize":3,"labelPadding":1}},"x2":{"field":"x2"},"y":{"field":"y1","type":"quantitative","axis":{"orient":"right","values":[70,30],"title":null,"domain":false,"labelOverlap":false,"tickSize":3,"labelPadding":1}},"y2":{"field":"y2"}}},
{"data":{"values":[{"i":158.3,"v":36.2,"t":"пантеон"}]},"mark":{"type":"text","align":"left","baseline":"alphabetic","fontSize":31,"font":"Liberation Sans","color":"#4a4a4a","opacity":0.9},"encoding":{"x":{"field":"i","type":"quantitative","axis":{"values":[0,16,32,48,64,80,96,112,128,144],"labelExpr":"['3 Sep 2012','3 Sep 21:00','4 Sep 13:00','5 Sep 05:00','5 Sep 21:00','6 Sep 13:00','7 Sep 05:00','7 Sep 21:00','10 Sep 13:00','11 Sep 05:00'][round(datum.value/16)]","labelAlign":"left","labelFlush":false,"labelOverlap":false,"labelBound":false,"title":null,"labelOffset":-1,"tickSize":3,"labelPadding":1}},"y":{"field":"v","type":"quantitative","axis":{"orient":"right","values":[70,30],"title":null,"domain":false,"labelOverlap":false,"tickSize":3,"labelPadding":1}},"text":{"field":"t"}}}
]}
],
"resolve":{"scale":{"y":"independent"},"axis":{"y":"independent"}}
}
]
}
